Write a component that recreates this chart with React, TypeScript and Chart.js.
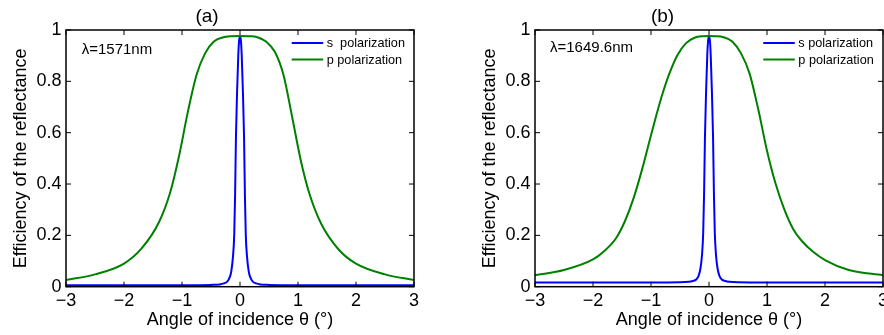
import React, { useEffect, useRef } from 'react';
import { Chart, registerables } from 'chart.js';

Chart.register(...registerables);

// ---------- data ----------
const xTickLabels = ['−3', '−2', '−1', '0', '1', '2', '3'];
const yTickLabels = ['0', '0.2', '0.4', '0.6', '0.8', '1'];
const panelTitles = ['(a)', '(b)'];
const wavelengthLabels = ['λ=1571nm', 'λ=1649.6nm'];
const seriesNamesA = ['s  polarization', 'p polarization'];
const seriesNamesB = ['s polarization', 'p polarization'];

// panel (a) s polarization
const sAnglesA = [-3, -1, -0.5, -0.35, -0.28, -0.22, -0.18, -0.15, -0.12, -0.1, -0.085, -0.07, -0.05, -0.03, -0.015, 0,
  0.015, 0.03, 0.05, 0.07, 0.085, 0.1, 0.12, 0.15, 0.18, 0.22, 0.28, 0.35, 0.5, 1, 3];
const sValuesA = [0.006, 0.006, 0.007, 0.009, 0.013, 0.02, 0.035, 0.06, 0.12, 0.2, 0.35, 0.58, 0.76, 0.9, 0.96, 0.975,
  0.96, 0.9, 0.76, 0.58, 0.35, 0.2, 0.12, 0.06, 0.035, 0.02, 0.013, 0.009, 0.007, 0.006, 0.006];
// panel (a) p polarization
const pAnglesA = [-3, -2.5, -2.0, -1.7, -1.4, -1.2, -1.05, -0.9, -0.75, -0.6, -0.45, -0.3, -0.15, 0,
  0.15, 0.3, 0.45, 0.6, 0.75, 0.9, 1.05, 1.2, 1.4, 1.7, 2.0, 2.5, 3];
const pValuesA = [0.026, 0.048, 0.09, 0.148, 0.25, 0.37, 0.51, 0.68, 0.825, 0.91, 0.955, 0.971, 0.976, 0.977,
  0.976, 0.972, 0.955, 0.915, 0.825, 0.66, 0.49, 0.36, 0.245, 0.145, 0.09, 0.048, 0.026];

// panel (b) s polarization
const sAnglesB = [-3, -1, -0.5, -0.35, -0.28, -0.22, -0.18, -0.15, -0.12, -0.1, -0.085, -0.07, -0.05, -0.03, -0.015, 0,
  0.015, 0.03, 0.05, 0.07, 0.085, 0.1, 0.12, 0.15, 0.18, 0.22, 0.28, 0.35, 0.5, 1, 3];
const sValuesB = [0.016, 0.016, 0.017, 0.019, 0.022, 0.028, 0.042, 0.068, 0.125, 0.21, 0.36, 0.58, 0.76, 0.9, 0.96, 0.975,
  0.96, 0.9, 0.76, 0.58, 0.36, 0.21, 0.125, 0.068, 0.042, 0.028, 0.022, 0.019, 0.017, 0.016, 0.016];
// panel (b) p polarization
const pAnglesB = [-3, -2.5, -2.0, -1.8, -1.6, -1.45, -1.3, -1.15, -1.0, -0.85, -0.7, -0.55, -0.4, -0.25, -0.1, 0,
  0.1, 0.25, 0.4, 0.55, 0.7, 0.85, 1.0, 1.15, 1.3, 1.45, 1.6, 1.8, 2.0, 2.41, 3];
const pValuesB = [0.045, 0.065, 0.106, 0.14, 0.19, 0.255, 0.345, 0.46, 0.59, 0.715, 0.82, 0.9, 0.948, 0.97, 0.976, 0.977,
  0.976, 0.972, 0.955, 0.91, 0.83, 0.69, 0.53, 0.4, 0.3, 0.225, 0.178, 0.135, 0.104, 0.065, 0.045];

const xAxisTitle = 'Angle of incidence θ (°)';
const yAxisTitle = 'Efficiency of the reflectance';

const S_COLOR = '#0000ff';
const P_COLOR = '#008000';
const FONT = '"Liberation Sans", Arial, Helvetica, sans-serif';

const zip = (xs: number[], ys: number[]) => xs.map((x, i) => ({ x, y: ys[i] }));

const framePlugin = {
  id: 'frameTicks',
  afterDatasetsDraw(chart: any) {
    const { ctx, chartArea, scales } = chart;
    const { left, right, top, bottom } = chartArea;
    const L = 5;
    ctx.save();
    ctx.strokeStyle = '#000';
    ctx.lineWidth = 1;
    ctx.beginPath();
    for (const t of scales.x.ticks) {
      const px = scales.x.getPixelForValue(t.value);
      ctx.moveTo(px, bottom); ctx.lineTo(px, bottom - L);
      ctx.moveTo(px, top); ctx.lineTo(px, top + L);
    }
    for (const t of scales.y.ticks) {
      const py = scales.y.getPixelForValue(t.value);
      ctx.moveTo(left, py); ctx.lineTo(left + L, py);
      ctx.moveTo(right, py); ctx.lineTo(right - L, py);
    }
    ctx.stroke();
    ctx.lineWidth = 1.5;
    ctx.strokeRect(left, top, right - left, bottom - top);
    ctx.restore();
  },
};

const annotPlugin = {
  id: 'annot',
  afterDraw(chart: any, _args: any, opts: any) {
    const { ctx, chartArea } = chart;
    const { left, right, top } = chartArea;
    ctx.save();
    // wavelength label
    ctx.fillStyle = '#000';
    ctx.font = `15px ${FONT}`;
    ctx.textBaseline = 'middle';
    ctx.textAlign = 'left';
    ctx.fillText(opts.label, left + opts.labelDx, top + opts.labelDy);
    // legend
    const names: string[] = opts.names;
    const colors = [S_COLOR, P_COLOR];
    const rows = [13, 29.5];
    ctx.font = `12.7px ${FONT}`;
    names.forEach((n, i) => {
      const y = top + rows[i];
      ctx.strokeStyle = colors[i];
      ctx.lineWidth = 2;
      ctx.beginPath();
      ctx.moveTo(right - opts.lineStart, y);
      ctx.lineTo(right - opts.lineStart + 31.5, y);
      ctx.stroke();
      ctx.fillText(n, right - opts.textStart, y + 0.5);
    });
    ctx.restore();
  },
};

function makeConfig(p: any): any {
  return {
    type: 'line',
    data: {
      datasets: [
        { label: p.names[1], data: zip(p.pX, p.pY), borderColor: P_COLOR, borderWidth: 2, pointRadius: 0, cubicInterpolationMode: 'monotone', order: 0, fill: false },
        { label: p.names[0], data: zip(p.sX, p.sY), borderColor: S_COLOR, borderWidth: 2, pointRadius: 0, cubicInterpolationMode: 'monotone', order: 1, fill: false },
      ],
    },
    options: {
      responsive: false,
      animation: false,
      events: [],
      layout: { padding: { left: 0, right: p.rightPad, top: 0, bottom: 0 } },
      plugins: {
        legend: { display: false },
        tooltip: { enabled: false },
        title: {
          display: true,
          text: p.title,
          color: '#000',
          font: { family: FONT, size: 19, weight: 'normal', lineHeight: 1.2 },
          padding: { top: 5, bottom: 2.2 },
        },
        annot: p.annot,
      },
      scales: {
        x: {
          type: 'linear',
          min: -3,
          max: 3,
          grid: { display: false, drawTicks: false },
          border: { display: false },
          ticks: {
            stepSize: 1,
            padding: 4,
            color: '#000',
            font: { family: FONT, size: 18 },
            maxRotation: 0,
            callback: (_v: any, i: number) => xTickLabels[i],
          },
          title: {
            display: true,
            text: xAxisTitle,
            color: '#000',
            font: { family: FONT, size: 18, lineHeight: 1.2 },
            padding: { top: 0, bottom: 4.2 },
          },
          afterFit: (s: any) => { s.height = 48.3; s.paddingLeft = 0; s.paddingRight = 0; },
        },
        y: {
          type: 'linear',
          min: 0,
          max: 1,
          grid: { display: false, drawTicks: false },
          border: { display: false },
          ticks: {
            stepSize: 0.2,
            padding: 4.5,
            color: '#000',
            font: { family: FONT, size: 18 },
            callback: (_v: any, i: number) => yTickLabels[i],
          },
          title: {
            display: true,
            text: yAxisTitle,
            color: '#000',
            font: { family: FONT, size: 18, lineHeight: 1.2 },
            padding: { top: p.yTitlePad, bottom: 0 },
          },
          afterFit: (s: any) => { s.width = p.yWidth; s.paddingTop = 0; s.paddingBottom = 0; },
        },
      },
    },
    plugins: [framePlugin, annotPlugin],
  };
}

function Panel({ cfg, left }: { cfg: any; left: number }) {
  const ref = useRef<HTMLCanvasElement | null>(null);
  useEffect(() => {
    if (!ref.current) return;
    const chart = new Chart(ref.current, makeConfig(cfg));
    return () => chart.destroy();
  }, []);
  return (
    <div style={{ position: 'absolute', left, top: 0, width: 442, height: 335 }}>
      <canvas ref={ref} width={442} height={335} style={{ display: 'block' }} />
    </div>
  );
}

const panelA = {
  title: panelTitles[0],
  names: seriesNamesA,
  sX: sAnglesA, sY: sValuesA, pX: pAnglesA, pY: pValuesA,
  rightPad: 28,
  yWidth: 66,
  yTitlePad: 10,
  annot: { label: wavelengthLabels[0], labelDx: 15.7, labelDy: 20, names: seriesNamesA, lineStart: 122.3, textStart: 87.3 },
};

const panelB = {
  title: panelTitles[1],
  names: seriesNamesB,
  sX: sAnglesB, sY: sValuesB, pX: pAnglesB, pY: pValuesB,
  rightPad: 1,
  yWidth: 93,
  yTitlePad: 37,
  annot: { label: wavelengthLabels[1], labelDx: 15, labelDy: 17.5, names: seriesNamesB, lineStart: 119.7, textStart: 84.7 },
};

export default function App() {
  return (
    <div style={{ position: 'fixed', left: 0, top: 0, width: 884, height: 335, background: '#fff', overflow: 'hidden' }}>
      <Panel cfg={panelA} left={0} />
      <Panel cfg={panelB} left={442} />
    </div>
  );
}
